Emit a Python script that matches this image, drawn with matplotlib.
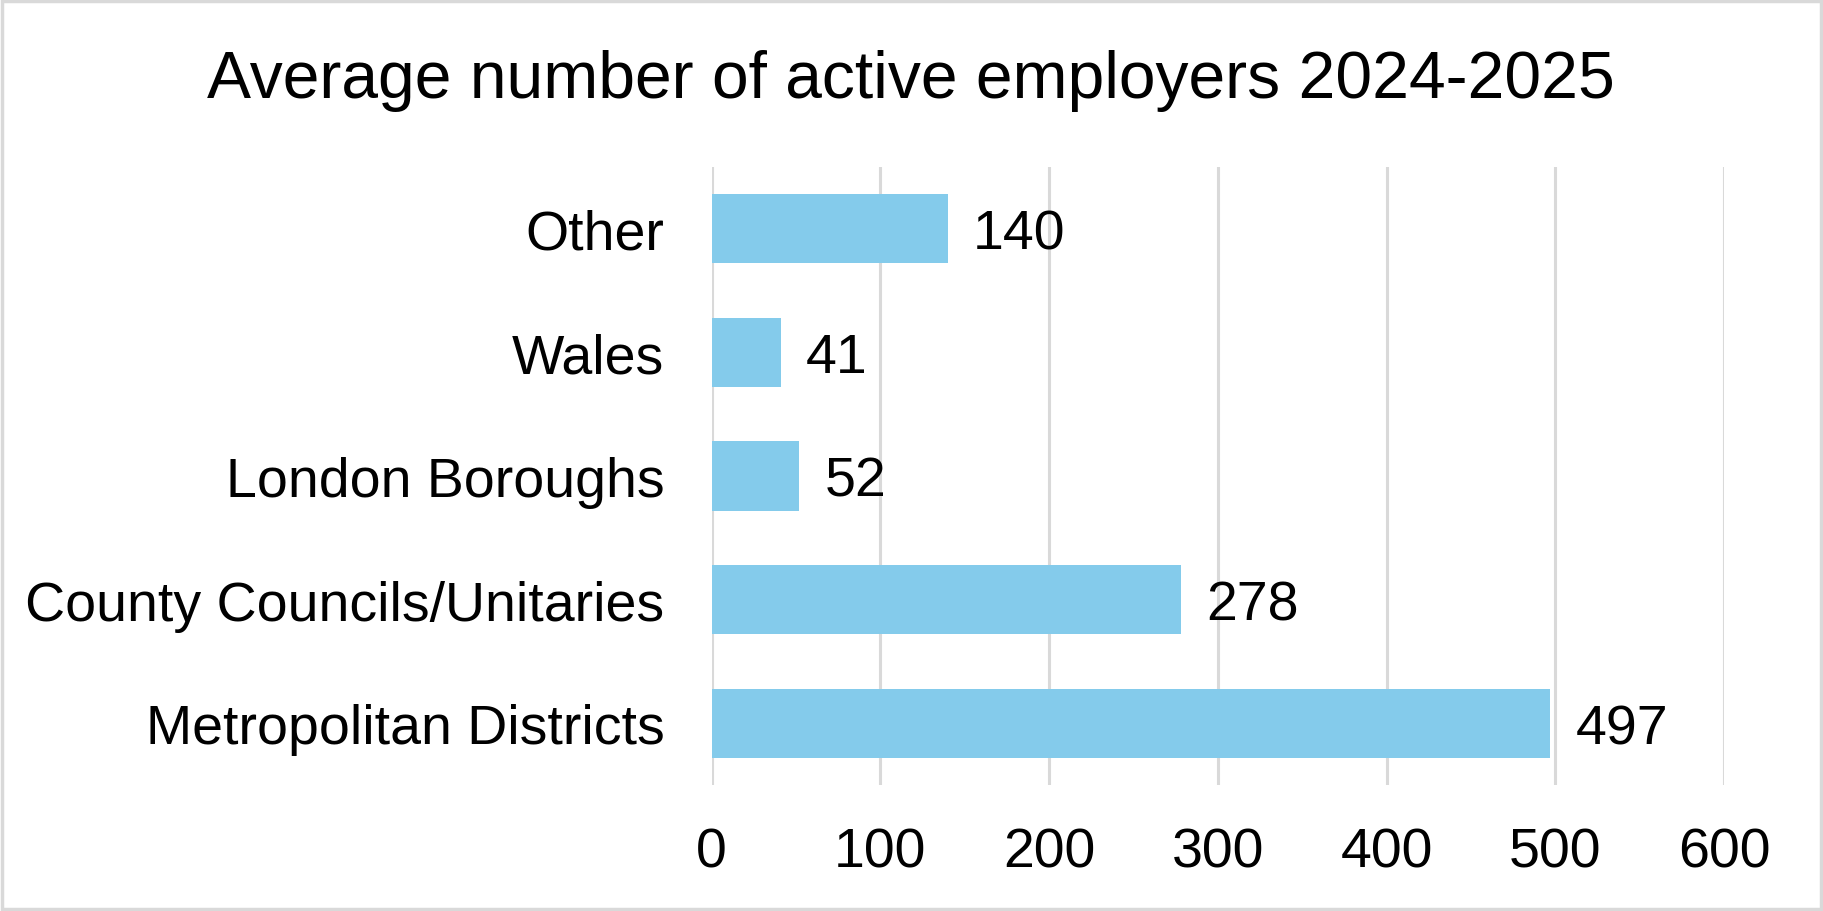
#!/usr/bin/env python3

import matplotlib
matplotlib.use("Agg")
import matplotlib.pyplot as plt
from matplotlib.patches import Rectangle

# Data (bottom to top as drawn)
categories = ["Metropolitan Districts", "County Councils/Unitaries",
              "London Boroughs", "Wales", "Other"]
values = [497, 278, 52, 41, 140]
x_ticks = [0, 100, 200, 300, 400, 500, 600]
title = "Average number of active employers 2024-2025"

BAR_COLOR = "#84CBEB"
GRID_COLOR = "#D9D9D9"

plt.rcParams["font.family"] = ["Liberation Sans", "DejaVu Sans"]


def main():
    fig = plt.figure(figsize=(18.23, 9.12), dpi=100)
    ax = fig.add_axes([0.3904, 0.1382, 0.5553, 0.6776])

    ypos = list(range(len(categories)))
    ax.barh(ypos, values, height=0.56, color=BAR_COLOR, zorder=3)

    for y, v in zip(ypos, values):
        ax.text(v + 15, y, str(v), va="center_baseline", ha="left", fontsize=40, zorder=4)

    ax.set_xlim(0, 600)
    ax.set_ylim(-0.5, len(categories) - 0.5)
    ax.set_xticks(x_ticks)
    ax.set_xticklabels([str(t) for t in x_ticks], fontsize=40)
    ax.set_yticks(ypos)
    ax.set_yticklabels(categories, fontsize=40)
    ax.tick_params(axis="x", length=0, pad=30)
    ax.tick_params(axis="y", length=0, pad=34)

    ax.grid(axis="x", color=GRID_COLOR, linewidth=2.2, zorder=0)
    for s in ax.spines.values():
        s.set_visible(False)

    fig.text(0.4995, 0.911, title, ha="center", va="center", fontsize=47.5)

    # light grey frame round the whole chart
    fig.patches.append(Rectangle((0.001, 0.002), 0.998, 0.996, transform=fig.transFigure,
                                 fill=False, edgecolor=GRID_COLOR, linewidth=2.5))

    fig.savefig("out.png", dpi=100)


if __name__ == "__main__":
    main()
